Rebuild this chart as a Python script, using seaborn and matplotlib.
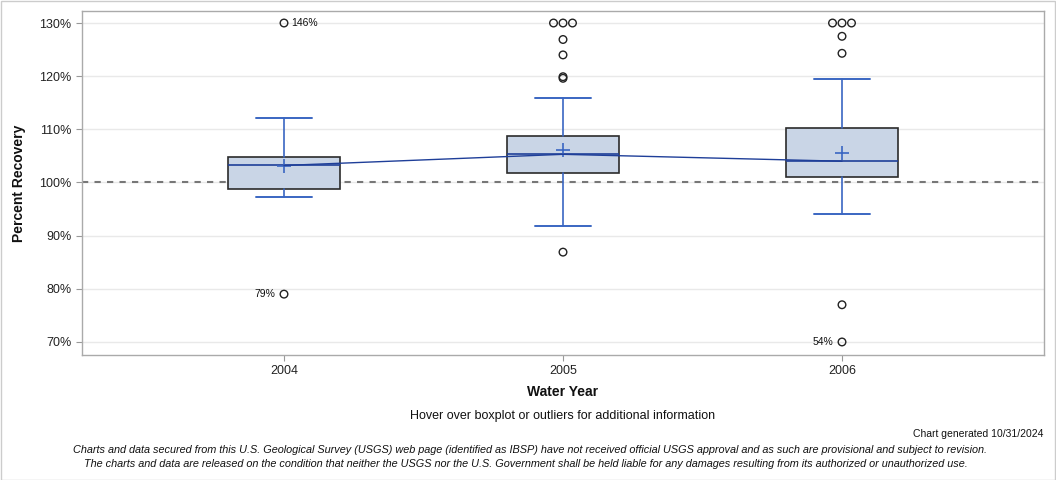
import matplotlib
matplotlib.use("Agg")
import matplotlib.pyplot as plt
import seaborn as sns
import pandas as pd
import numpy as np
from matplotlib.patches import Rectangle
from matplotlib.ticker import FuncFormatter

# ---- data ----
years = ["2004", "2005", "2006"]
q1 = [98.8, 101.7, 101.0]
median = [103.2, 105.3, 104.0]
q3 = [104.8, 108.8, 110.3]
whisker_low = [97.3, 91.8, 94.0]
whisker_high = [112.1, 115.9, 119.5]
mean = [103.1, 106.1, 105.6]
outliers_2004 = [130.0, 79.0]
outliers_2005 = [130.0, 130.0, 130.0, 126.9, 124.0, 119.9, 119.6, 86.9]
outliers_2006 = [130.0, 130.0, 130.0, 127.5, 124.3, 77.0, 70.0]
outlier_labels = {("2004", 130.0): "146%", ("2004", 79.0): "79%", ("2006", 70.0): "54%"}
yticks = [70, 80, 90, 100, 110, 120, 130]

sns.set_theme(style="white")
plt.rcParams["font.family"] = ["Liberation Sans", "DejaVu Sans"]

fig = plt.figure(figsize=(10.56, 4.8), dpi=100)
ax = fig.add_axes([82 / 1056, 1 - 355 / 480, (1044 - 82) / 1056, (355 - 11) / 480])

BOX_FILL = "#c9d5e6"
BOX_EDGE = "#2b2b2b"
WHISK = "#3a66c2"
NAVY = "#1f3f99"

# grid and reference line
for t in yticks:
    ax.axhline(t, color="#e9e9e9", lw=1, zorder=0)
ax.axhline(100, color="#777777", lw=1.5, ls=(0, (3, 3)), zorder=1)

stats = []
for i in range(len(years)):
    stats.append(dict(med=median[i], q1=q1[i], q3=q3[i], whislo=whisker_low[i],
                      whishi=whisker_high[i], mean=mean[i], fliers=[], label=years[i]))
ax.bxp(stats, positions=range(len(years)), widths=0.4, capwidths=0.2,
       showmeans=True, patch_artist=True, showfliers=False,
       boxprops=dict(facecolor=BOX_FILL, edgecolor=BOX_EDGE, lw=1.2),
       whiskerprops=dict(color=WHISK, lw=1.2),
       capprops=dict(color=WHISK, lw=1.4),
       medianprops=dict(color=NAVY, lw=1.2),
       meanprops=dict(marker="+", markeredgecolor=WHISK, markersize=10, markeredgewidth=1.2),
       zorder=2)

# median connecting line
med_df = pd.DataFrame({"x": range(len(years)), "median": median})
sns.lineplot(data=med_df, x="x", y="median", color=NAVY, lw=1, ax=ax, zorder=3)

# outliers
rows = []
for i, (yr, vals) in enumerate(zip(years, [outliers_2004, outliers_2005, outliers_2006])):
    top = [v for v in vals if v >= 130.0]
    n_top = len(top)
    k = 0
    for v in vals:
        if v >= 130.0 and n_top > 1:
            xo = i + (k - (n_top - 1) / 2) * 0.034
            k += 1
        else:
            xo = i
        rows.append(dict(x=xo, y=v, year=yr))
out_df = pd.DataFrame(rows)
sns.scatterplot(data=out_df, x="x", y="y", marker="o", s=30, facecolor="none",
                edgecolor="#222222", linewidth=1.0, ax=ax, zorder=4)
for (yr, v), lab in outlier_labels.items():
    i = years.index(yr)
    if v >= 130:
        ax.annotate(lab, (i, v), xytext=(5, 0), textcoords="offset points",
                    ha="left", va="center", fontsize=7.5, color="#111111")
    else:
        ax.annotate(lab, (i, v), xytext=(-6, 0), textcoords="offset points",
                    ha="right", va="center", fontsize=7.5, color="#111111")

ax.set_xlim(-0.724, 2.724)
ax.set_ylim(67.55, 132.26)
ax.set_yticks(yticks)
ax.yaxis.set_major_formatter(FuncFormatter(lambda v, p: f"{v:.0f}%"))
ax.set_xticks(range(len(years)))
ax.set_xticklabels(years)
ax.set_xlabel("")
ax.set_ylabel("")
ax.tick_params(axis="both", which="both", length=4, width=0.8, color="#999999",
               labelsize=9, labelcolor="#222222", left=True, bottom=True, direction="out")
for sp in ax.spines.values():
    sp.set_color("#aaaaaa")
    sp.set_linewidth(1)

fig.text(19 / 1056, 1 - 183 / 480, "Percent Recovery", rotation=90, ha="center", va="center",
         fontsize=10, fontweight="bold", color="#111111")
fig.text(563 / 1056, 1 - 392 / 480, "Water Year", ha="center", va="center",
         fontsize=10, fontweight="bold", color="#111111")
fig.text(563 / 1056, 1 - 416 / 480, "Hover over boxplot or outliers for additional information",
         ha="center", va="center", fontsize=9, color="#111111")
fig.text(1043 / 1056, 1 - 434 / 480, "Chart generated 10/31/2024", ha="right", va="center",
         fontsize=7.5, color="#111111")
fig.text(530 / 1056, 1 - 450 / 480,
         "Charts and data secured from this U.S. Geological Survey (USGS) web page (identified as IBSP) have not received official USGS approval and as such are provisional and subject to revision.",
         ha="center", va="center", fontsize=7.85, style="italic", color="#111111")
fig.text(526 / 1056, 1 - 464 / 480,
         "The charts and data are released on the condition that neither the USGS nor the U.S. Government shall be held liable for any damages resulting from its authorized or unauthorized use.",
         ha="center", va="center", fontsize=7.85, style="italic", color="#111111")

fig.patches.append(Rectangle((0.5 / 1056, 0.5 / 480), 1 - 1.5 / 1056, 1 - 1.5 / 480,
                             transform=fig.transFigure, fill=False, edgecolor="#cccccc", lw=1))

fig.savefig("out.png", dpi=100)
